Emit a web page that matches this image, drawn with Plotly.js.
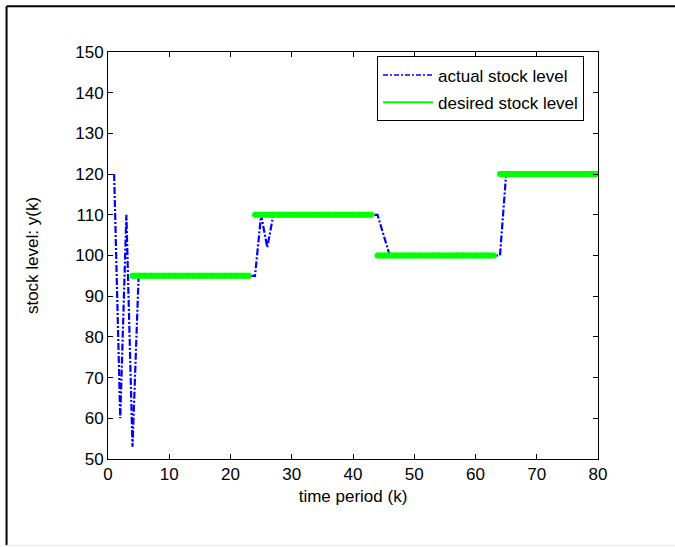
<!DOCTYPE html>
<html>
<head>
<meta charset="utf-8">
<script src="https://cdn.plot.ly/plotly-3.0.1.min.js"></script>
<style>html,body{margin:0;padding:0;background:#fff;}#chart{width:675px;height:547px;}</style>
</head>
<body>
<div id="chart"></div>
<script>
// time steps k
var timeK = [];
for (var i = 1; i <= 80; i++) timeK.push(i);

// actual stock level y(k)
var actualStock = [120, 60, 110, 53, 95, 95, 95, 95, 95, 95,
  95, 95, 95, 95, 95, 95, 95, 95, 95, 95,
  95, 95, 95, 95, 110, 102, 110, 110, 110, 110,
  110, 110, 110, 110, 110, 110, 110, 110, 110, 110,
  110, 110, 110, 110, 105, 100, 100, 100, 100, 100,
  100, 100, 100, 100, 100, 100, 100, 100, 100, 100,
  100, 100, 100, 100, 120, 120, 120, 120, 120, 120,
  120, 120, 120, 120, 120, 120, 120, 120, 120, 120];

// desired stock level segments
var desiredLevels = [95, 110, 100, 120];
var desiredStart = [4, 24, 44, 64];
var desiredEnd = [23, 43, 63, 80];

var dx = [], dy = [];
for (var s = 0; s < desiredLevels.length; s++) {
  for (var k = desiredStart[s]; k <= desiredEnd[s]; k++) { dx.push(k); dy.push(desiredLevels[s]); }
  dx.push(null); dy.push(null);
}

var fontFam = '"Liberation Sans", Arial, Helvetica, sans-serif';

var traces = [
  {x: timeK, y: actualStock, type: 'scatter', mode: 'lines', name: 'actual stock level',
   line: {color: '#0000ff', width: 2.2, dash: '7px,2px,2px,2px'}, showlegend: false},
  {x: dx, y: dy, type: 'scatter', mode: 'lines+markers', name: 'desired stock level',
   line: {color: '#00ff00', width: 6}, marker: {color: '#00ff00', size: 6}, showlegend: false, connectgaps: false},
  {x: [null], y: [null], type: 'scatter', mode: 'lines', name: 'actual stock level', legendgroup: 'a',
   line: {color: '#0000ff', width: 1.5, dash: '5px,2px,2px,2px'}},
  {x: [null], y: [null], type: 'scatter', mode: 'lines', name: 'desired stock level', legendgroup: 'b',
   line: {color: '#00ff00', width: 2}}
];

var layout = {
  width: 675, height: 547,
  margin: {l: 108, r: 77, t: 52, b: 88, pad: 0},
  paper_bgcolor: '#fff', plot_bgcolor: '#fff',
  font: {family: fontFam, size: 17, color: '#000'},
  showlegend: true,
  legend: {x: 0.549, y: 0.989, xanchor: 'left', yanchor: 'top', bordercolor: '#000', borderwidth: 1,
           bgcolor: '#fff', font: {size: 17, family: fontFam}, tracegroupgap: 2, itemwidth: 50},
  xaxis: {range: [0, 80], dtick: 10, tick0: 0, showgrid: false, zeroline: false,
          showline: true, linecolor: '#000', linewidth: 1, mirror: 'ticks',
          ticks: 'inside', ticklen: 5, tickcolor: '#000',
          title: {text: 'time period (k)', font: {size: 17}, standoff: 6}},
  yaxis: {range: [50, 150], dtick: 10, tick0: 50, showgrid: false, zeroline: false,
          showline: true, linecolor: '#000', linewidth: 1, mirror: 'ticks',
          ticks: 'inside', ticklen: 5, tickcolor: '#000',
          title: {text: 'stock level: y(k)', font: {size: 17}, standoff: 32}},
  shapes: [
    {type: 'line', xref: 'paper', yref: 'paper', x0: -0.207, x1: 1.16, y0: 1.1125, y1: 1.1125, line: {color: '#000', width: 2}},
    {type: 'line', xref: 'paper', yref: 'paper', x0: -0.207, x1: -0.207, y0: 1.1125, y1: -0.212, line: {color: '#000', width: 2}},
    {type: 'line', xref: 'paper', yref: 'paper', x0: -0.207, x1: 1.16, y0: -0.212, y1: -0.212, line: {color: '#e6e6e6', width: 1}}
  ]
};

Plotly.newPlot('chart', traces, layout, {displayModeBar: false, staticPlot: true});
</script>
</body>
</html>
